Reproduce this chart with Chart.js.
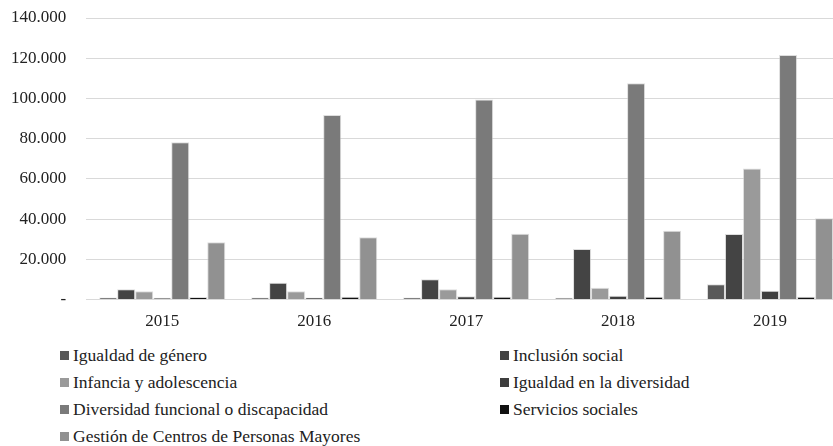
<!DOCTYPE html>
<html>
<head>
<meta charset="utf-8">
<script src="https://cdn.jsdelivr.net/npm/chart.js@4"></script>
<style>
    body { margin: 0; overflow: hidden; background: #fff; width: 833px; height: 446px; position: relative; }
    #wrap { position: absolute; left: 0; top: 0; width: 860px; height: 344px; }
    #legend {
        position: absolute; left: 60px; top: 344px;
        display: grid; grid-template-columns: 440px auto; row-gap: 5px;
        font-family: "Liberation Serif", "DejaVu Serif", serif; font-size: 17.5px; color: #222;
    }
    #legend div { display: flex; align-items: center; height: 22px; white-space: nowrap; }
    #legend span.box { display: inline-block; width: 9px; height: 9px; margin-right: 4px; }
</style>
</head>
<body>
<div id="wrap"><canvas id="chart"></canvas></div>
<div id="legend"></div>
<script>
const years = ['2015', '2016', '2017', '2018', '2019'];

const igualdadGenero = [1000, 1000, 1000, 900, 7600];
const inclusionSocial = [5200, 8400, 10100, 25100, 32600];
const infancia = [4200, 4100, 5100, 5900, 65200];
const igualdadDiversidad = [900, 1000, 1700, 1900, 4400];
const diversidadFuncional = [78200, 91800, 99500, 107500, 121600];
const serviciosSociales = [1300, 1400, 1400, 1400, 1400];
const centrosMayores = [28500, 31000, 32700, 34200, 40500];

const yTicks = [0, 20000, 40000, 60000, 80000, 100000, 120000, 140000];

// formato español: punto como separador de miles, guion para el cero
function fmt(v) {
    if (v === 0) return '-';
    return String(v).replace(/\B(?=(\d{3})+(?!\d))/g, '.');
}

function serie(label, data, color) {
    return {
        label: label,
        data: data,
        backgroundColor: color,
        borderColor: 'rgba(200,200,200,0.6)',
        borderWidth: 1,
        barPercentage: 1.0,
        categoryPercentage: 0.83
    };
}

const font = { family: '"Liberation Serif", "DejaVu Serif", serif', size: 17 };

const chart = new Chart(document.getElementById('chart').getContext('2d'), {
    type: 'bar',
    data: {
        labels: years,
        datasets: [
            serie('Igualdad de género', igualdadGenero, '#595959'),
            serie('Inclusión social', inclusionSocial, '#444444'),
            serie('Infancia y adolescencia', infancia, '#9a9a9a'),
            serie('Igualdad en la diversidad', igualdadDiversidad, '#3e3e3e'),
            serie('Diversidad funcional o discapacidad', diversidadFuncional, '#7a7a7a'),
            serie('Servicios sociales', serviciosSociales, '#111111'),
            serie('Gestión de Centros de Personas Mayores', centrosMayores, '#919191')
        ]
    },
    options: {
        responsive: true,
        maintainAspectRatio: false,
        animation: false,
        layout: { padding: { left: 9, right: 14, top: 18, bottom: 10 } },
        plugins: {
            legend: { display: false },
            tooltip: { enabled: false }
        },
        scales: {
            x: {
                grid: { display: true, drawOnChartArea: false, tickLength: 10, tickColor: 'rgba(0,0,0,0)' },
                border: { display: true, color: '#d9d9d9' },
                ticks: { font: font, color: '#222', padding: 2 }
            },
            y: {
                min: 0,
                max: 140000,
                afterBuildTicks: axis => { axis.ticks = yTicks.map(v => ({ value: v })); },
                grid: { color: '#d9d9d9', tickLength: 18, tickColor: 'rgba(0,0,0,0)' },
                border: { display: false },
                ticks: { font: font, color: '#222', padding: 2, callback: v => fmt(v) }
            }
        }
    }
});

// leyenda en dos columnas, a partir de los datasets del gráfico
const legendEl = document.getElementById('legend');
Chart.defaults.plugins.legend.labels.generateLabels(chart).forEach(item => {
    const row = document.createElement('div');
    const box = document.createElement('span');
    box.className = 'box';
    box.style.background = item.fillStyle;
    row.appendChild(box);
    row.appendChild(document.createTextNode(item.text));
    legendEl.appendChild(row);
});
</script>
</body>
</html>
